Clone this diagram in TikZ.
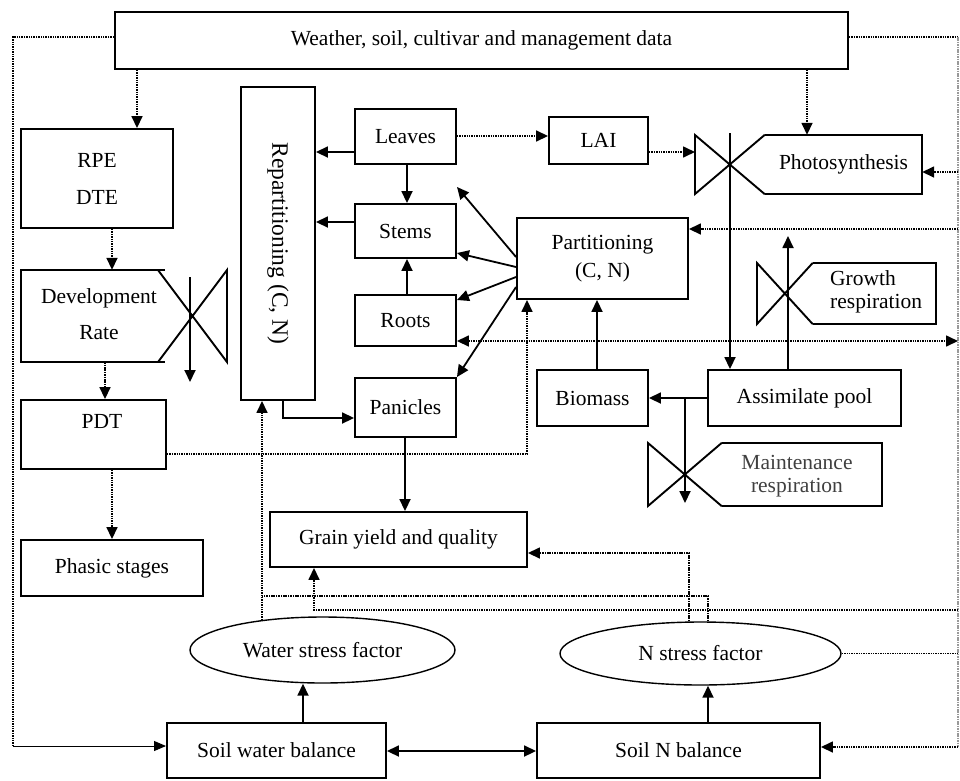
\documentclass[tikz,border=0pt]{standalone}
\usepackage{fontspec}
\setmainfont{Liberation Serif}
\usetikzlibrary{arrows.meta,shapes.geometric,calc}
\newcommand\fsz{\fontsize{21.5}{26}\selectfont}
\begin{document}
\begin{tikzpicture}[x=1pt,y=-1pt,
  bx/.style={draw, line width=1.9pt, inner sep=0pt, font=\fsz, align=center},
  nb/.style={inner sep=0pt, font=\fsz, align=center},
  txt/.style={inner sep=0pt, font=\fsz, align=center},
  ell/.style={draw, ellipse, line width=1.4pt, inner sep=0pt, font=\fsz},
  tip/.tip={Triangle[length=12pt,width=11pt]},
  arr/.style={line width=1.8pt, -tip},
  dl/.style={line width=1.6pt, dash pattern=on 1.5pt off 0.9pt},
  darr/.style={dl, -tip},
  shp/.style={line width=1.9pt, line join=miter}
]
\fill[white] (0,0) rectangle (960,780);
\useasboundingbox (0,0) rectangle (960,780);

% ---------- boxes ----------
\node[bx, minimum width=733pt, minimum height=57pt] (wea) at (481.5,40.5) {Weather, soil, cultivar and management data};
\node[bx, minimum width=152pt, minimum height=99pt] (rpe) at (97,178.5) {RPE\\[11pt]DTE};
\node[bx, minimum width=145pt, minimum height=69pt] (pdt) at (93.5,434.5) {};
\node[txt] (pdtt) at (102,421) {PDT};
\node[bx, minimum width=182pt, minimum height=56pt] (pha) at (112,568) {Phasic stages};
\node[bx, minimum width=74pt, minimum height=313pt] (rep) at (278,243.5) {};
\node[txt, rotate=-90, font=\fontsize{23.5}{28}\selectfont] (rept) at (rep.center) {Repartitioning (C, N)};
\node[bx, minimum width=101pt, minimum height=55pt] (lea) at (405.5,136.5) {Leaves};
\node[bx, minimum width=101pt, minimum height=54pt] (ste) at (405.5,231) {Stems};
\node[bx, minimum width=101pt, minimum height=51pt] (roo) at (405.5,320.5) {Roots};
\node[bx, minimum width=101pt, minimum height=59pt] (pan) at (405.5,407.5) {Panicles};
\node[bx, minimum width=99pt, minimum height=47pt] (lai) at (598.5,140.5) {LAI};
\node[bx, minimum width=171pt, minimum height=81pt] (part) at (602.5,258.5) {Partitioning\\[2pt](C, N)};
\node[bx, minimum width=111pt, minimum height=56pt] (bio) at (592.5,398) {Biomass};
\node[bx, minimum width=193pt, minimum height=56pt] (asm) at (804.5,398) {Assimilate pool};
\node[bx, minimum width=257pt, minimum height=55pt] (gra) at (398.5,539.5) {Grain yield and quality};
\node[bx, minimum width=219pt, minimum height=55pt] (swb) at (276.5,750.5) {Soil water balance};
\node[bx, minimum width=283pt, minimum height=55pt] (snb) at (678.5,750.5) {Soil N balance};
\node[ell, minimum width=265pt, minimum height=66pt] (wsf) at (322.5,650) {Water stress factor};
\node[ell, minimum width=281pt, minimum height=63pt] (nsf) at (700.5,653.5) {N stress factor};

% ---------- valve shapes ----------
% Development rate
\node[nb, minimum width=137pt, minimum height=92pt] (dev) at (89.5,316) {};
\node[txt] (devt) at (99,314) {Development\\[10pt]Rate};
\draw[shp] (165,270) -- (21,270) -- (21,362) -- (165,362);
\draw[shp] (158,270) -- (227,362) -- (227,270) -- (158,362);
% Photosynthesis
\node[nb, minimum width=157pt, minimum height=59pt] (pho) at (843.5,164.5) {Photosynthesis};
\draw[shp] (pho.north west) -- (pho.north east) -- (pho.south east) -- (pho.south west);
\draw[shp] (pho.north west) -- (695,194) -- (695,135) -- (pho.south west);
% Growth respiration
\node[nb, minimum width=123pt, minimum height=61pt] (grw) at (874.5,293.5) {};
\node[txt, anchor=west, align=left] (grwt) at (830,292) {Growth\\[-3pt]respiration};
\draw[shp] (grw.north west) -- (grw.north east) -- (grw.south east) -- (grw.south west);
\draw[shp] (grw.north west) -- (757,324) -- (757,263) -- (grw.south west);
% Maintenance respiration
\node[nb, minimum width=160pt, minimum height=63pt] (mai) at (802,474.5) {};
\node[txt, text=black!75] (mait) at (797,476) {Maintenance\\[-3pt]respiration};
\draw[shp] (mai.north west) -- (mai.north east) -- (mai.south east) -- (mai.south west);
\draw[shp] (mai.north west) -- (648,506) -- (648,443) -- (mai.south west);

% ---------- named free ends ----------
\coordinate (lt) at (13,37);
\coordinate (lb) at (13,746);
\coordinate (rt) at (958,37);
\coordinate (rb) at (958,747);
\coordinate (devX) at (190,277);
\coordinate (devXe) at (190,382);
\coordinate (phoX) at (730,133);
\coordinate (bowL) at (695,152);
\coordinate (gre) at (788,236);
\coordinate (mj) at (685,398);
\coordinate (mje) at (685,503);
\coordinate (pfree) at (457,187);
\coordinate (wsftop) at (262,620);

% ---------- dotted connectors ----------
\draw[dl] (wea.west |- lt) -- (lt) -- (lb);
\draw[line width=1pt, -{Triangle[length=12pt,width=10pt]}] (lb) -- (swb.west |- lb);
\draw[dl] (wea.east |- rt) -- (rt);
\draw[dl, black!40] (rt) -- (rb);
\draw[darr] (rt |- 0,172) -- (pho.east |- 0,172);
\draw[darr] (rt |- 0,229) -- (part.east |- 0,229);
\draw[dl, tip-tip] (roo.east |- 0,341) -- (rt |- 0,341);
\draw[darr] (rt |- 0,610) -| (gra.south -| 314,0);
\draw[dl] (nsf.east) -- (rt |- nsf.east);
\draw[darr] (rb) -- (snb.east |- rb);
\draw[darr] (wea.south -| 807,0) -- (pho.north -| 807,0);
\draw[darr] (wea.south -| 137,0) -- (rpe.north -| 137,0);
\draw[darr] (rpe.south -| 112,0) -- (dev.north -| 112,0);
\draw[darr] (dev.south -| 105,0) -- (pdt.north -| 105,0);
\draw[darr] (pdt.south -| 112,0) -- (pha.north -| 112,0);
\draw[darr] (lea.east |- 0,136) -- (lai.west |- 0,136);
\draw[darr] (lai.east |- bowL) -- (bowL);
\draw[darr] (pdt.east |- 0,454) -| (part.south -| 527,0);
\draw[darr] (wsftop) -- (rep.south -| wsftop);
\draw[darr] (nsf.north -| 689,0) |- (gra.east |- 0,553);
\draw[dl] (nsf.north -| 708,0) |- (wsftop |- 0,596);

% ---------- solid connectors ----------
\draw[arr] (lea.west |- 0,152) -- (rep.east |- 0,152);
\draw[arr] (ste.west |- 0,222) -- (rep.east |- 0,222);
\draw[arr] (lea.south -| 407,0) -- (ste.north -| 407,0);
\draw[arr] (roo.north -| 407,0) -- (ste.south -| 407,0);
\draw[arr] (rep.south -| 283,0) |- (pan.west |- 0,418);
\draw[arr] (part.west |- 0,257) -- (pfree);
\draw[arr] (part.west |- 0,267) -- (ste.east |- 0,253);
\draw[arr] (part.west |- 0,277) -- (roo.east |- 0,300);
\draw[arr] (part.west |- 0,287) -- (pan.north east);
\draw[arr] (pan.south -| 405,0) -- (gra.north -| 405,0);
\draw[arr] (phoX) -- (asm.north -| phoX);
\draw[arr] (asm.west) -- (bio.east);
\draw[arr] (mj) -- (mje);
\draw[arr] (bio.north -| 597,0) -- (part.south -| 597,0);
\draw[arr] (asm.north -| gre) -- (gre);
\draw[arr] (devX) -- (devXe);
\draw[arr] (swb.north -| 303,0) -- (wsf.south -| 303,0);
\draw[arr] (snb.north -| 708,0) -- (nsf.south -| 708,0);
\draw[line width=1.8pt, tip-tip] (swb.east |- 0,751) -- (snb.west |- 0,751);
\end{tikzpicture}
\end{document}
